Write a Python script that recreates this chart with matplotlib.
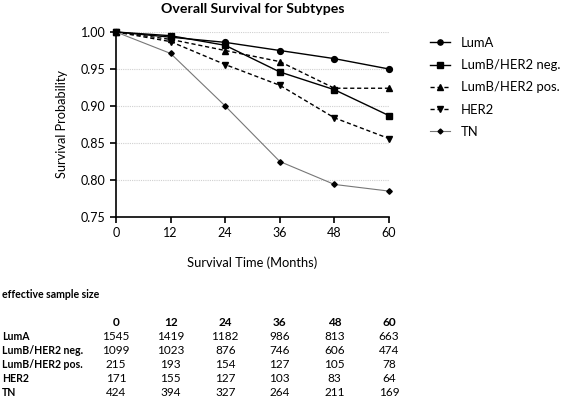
import matplotlib
matplotlib.use("Agg")
import matplotlib.pyplot as plt
import matplotlib.transforms as mtransforms

plt.rcParams['font.family'] = ['Lato', 'DejaVu Sans']

months = [0, 12, 24, 36, 48, 60]
series_names = ["LumA", "LumB/HER2 neg.", "LumB/HER2 pos.", "HER2", "TN"]
luma = [1.000, 0.993, 0.986, 0.975, 0.964, 0.950]
lumb_neg = [1.000, 0.995, 0.982, 0.946, 0.922, 0.887]
lumb_pos = [1.000, 0.990, 0.975, 0.960, 0.924, 0.924]
her2 = [1.000, 0.987, 0.956, 0.928, 0.884, 0.856]
tn = [1.000, 0.971, 0.900, 0.825, 0.794, 0.785]

n_luma = [1545, 1419, 1182, 986, 813, 663]
n_lumb_neg = [1099, 1023, 876, 746, 606, 474]
n_lumb_pos = [215, 193, 154, 127, 105, 78]
n_her2 = [171, 155, 127, 103, 83, 64]
n_tn = [424, 394, 327, 264, 211, 169]

yticks = [0.75, 0.80, 0.85, 0.90, 0.95, 1.00]

W, H = 567, 399
fig = plt.figure(figsize=(W / 100, H / 100), dpi=100)
ax = fig.add_axes([116 / W, 1 - 217 / H, (389 - 116) / W, (217 - 32) / H])

styles = [
    dict(color='black', ls='-', marker='o', ms=4.2, lw=1.0),
    dict(color='black', ls='-', marker='s', ms=4.2, lw=1.0),
    dict(color='black', ls=(0, (3, 2)), marker='^', ms=4.2, lw=1.0),
    dict(color='black', ls=(0, (3, 2)), marker='v', ms=4.2, lw=1.0),
    dict(color='#777777', ls='-', marker='D', ms=2.8, lw=0.8, mfc='black', mec='black'),
]
data = [luma, lumb_neg, lumb_pos, her2, tn]
for name, vals, st in zip(series_names, data, styles):
    ax.plot(months, vals, label=name, clip_on=False, zorder=3, **st)

ax.set_xlim(0, 60)
ax.set_ylim(0.75, 1.0)
ax.set_xticks(months)
ax.set_yticks(yticks)
ax.set_yticklabels([f"{v:.2f}" for v in yticks])
for s in ['top', 'right']:
    ax.spines[s].set_visible(False)
for s in ['left', 'bottom']:
    ax.spines[s].set_linewidth(1.2)
ax.tick_params(axis='both', labelsize=9, width=1.2, length=4, direction='out')
ax.yaxis.grid(True, color='#d0d0d0', ls=(0, (1, 1)), lw=0.8)
ax.set_axisbelow(True)

ax.set_title("Overall Survival for Subtypes", fontsize=10.2, fontweight='bold', pad=14)
ax.set_ylabel("Survival Probability", fontsize=9.2, labelpad=9)
ax.set_xlabel("Survival Time (Months)", fontsize=9.3, labelpad=12)

leg = ax.legend(loc='upper left', bbox_to_anchor=(430 / W, 1 - 37 / H), bbox_transform=fig.transFigure,
                frameon=False, fontsize=9.4, handlelength=1.5, labelspacing=0.78, handletextpad=0.85,
                borderaxespad=0, borderpad=0, markerscale=0.9)

# sample-size table
trans = mtransforms.blended_transform_factory(ax.transData, fig.transFigure)
fig.text(2 / W, 1 - 294 / H, "effective sample size", fontsize=7.6, fontweight='bold', va='center', ha='left')
header_y = 322
for m in months:
    fig.text(m, 1 - header_y / H, str(m), transform=trans, fontsize=8.5, fontweight='bold',
             ha='center', va='center')
rows = [n_luma, n_lumb_neg, n_lumb_pos, n_her2, n_tn]
row_ys = [337, 351, 365, 379, 392]
for name, vals, ry in zip(series_names, rows, row_ys):
    fig.text(2 / W, 1 - ry / H, name, fontsize=7.6, fontweight='bold', ha='left', va='center')
    for m, v in zip(months, vals):
        fig.text(m, 1 - ry / H, str(v), transform=trans, fontsize=8.5, ha='center', va='center')

fig.savefig("out.png", dpi=100)
